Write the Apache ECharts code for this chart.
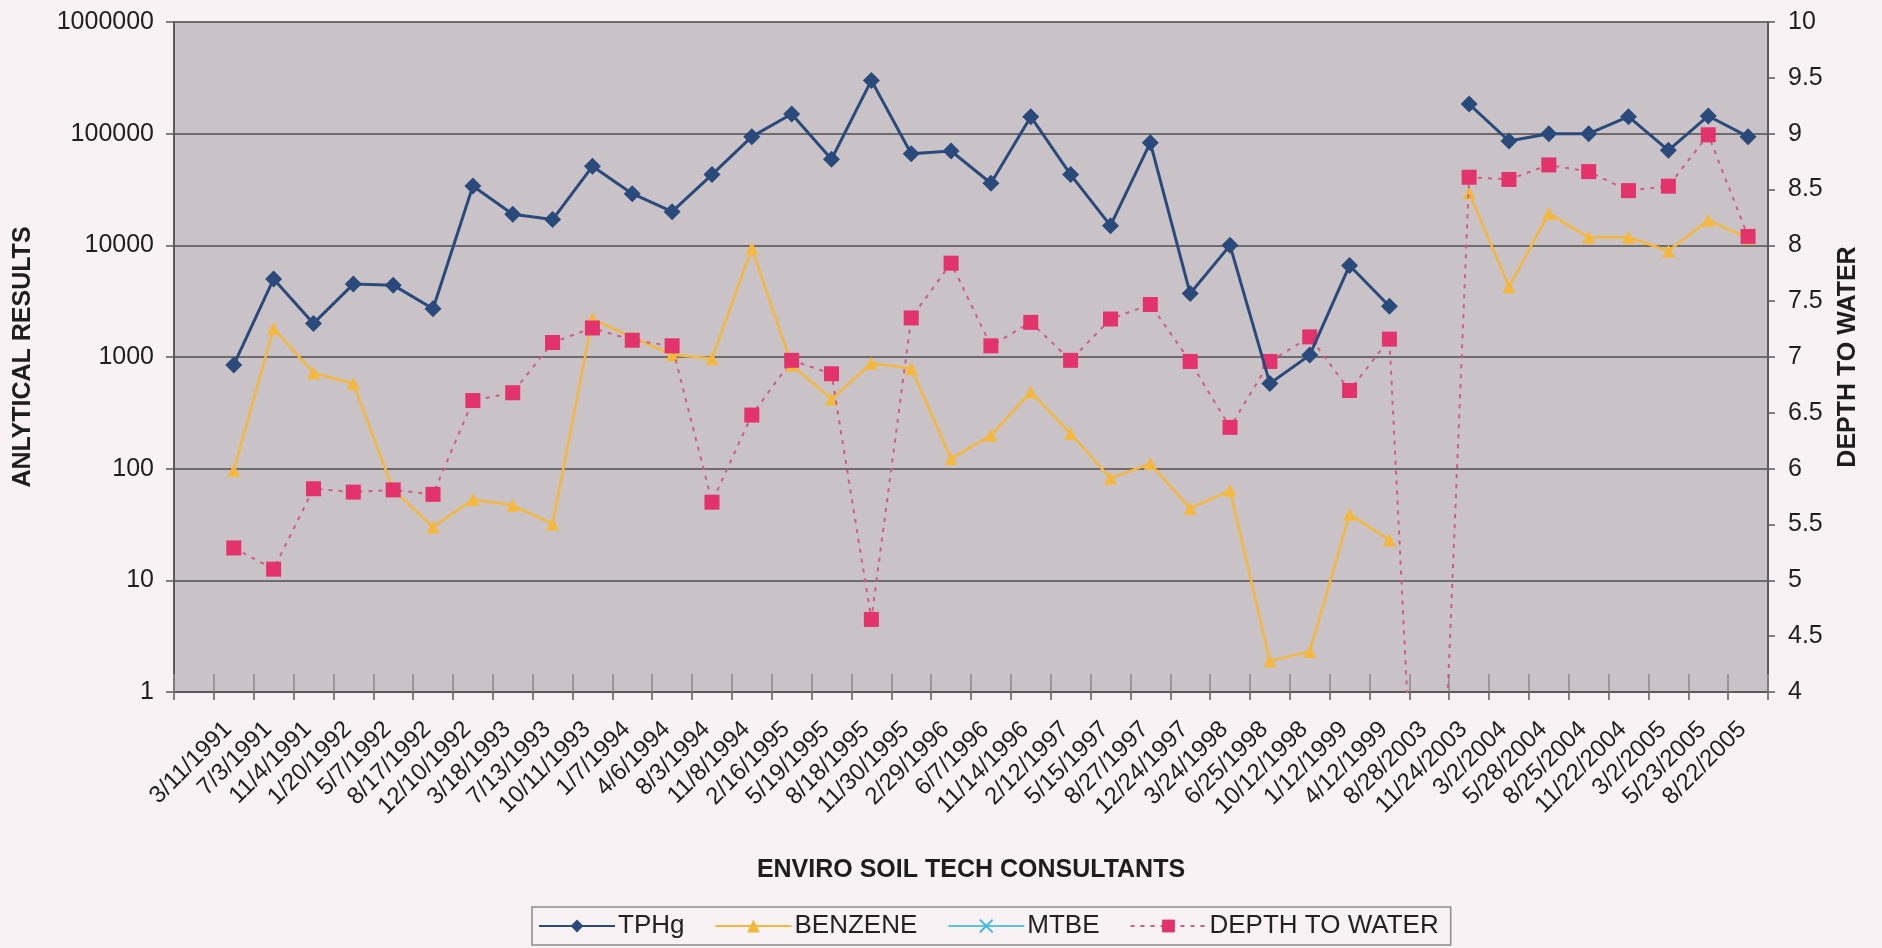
<!DOCTYPE html>
<html>
<head>
<meta charset="utf-8">
<title>Analytical Results and Depth to Water</title>
<script src="https://cdn.jsdelivr.net/npm/echarts@6/dist/echarts.min.js"></script>
<style>
  html, body { margin: 0; padding: 0; background: #f9f2f5; }
  #chart { width: 1882px; height: 948px; }
</style>
</head>
<body>
<div id="chart"></div>
<script>
// Sampling dates (first slot is an empty category)
const categories = ['', '3/11/1991', '7/3/1991', '11/4/1991', '1/20/1992', '5/7/1992', '8/17/1992',
  '12/10/1992', '3/18/1993', '7/13/1993', '10/11/1993', '1/7/1994', '4/6/1994', '8/3/1994',
  '11/8/1994', '2/16/1995', '5/19/1995', '8/18/1995', '11/30/1995', '2/29/1996', '6/7/1996',
  '11/14/1996', '2/12/1997', '5/15/1997', '8/27/1997', '12/24/1997', '3/24/1998', '6/25/1998',
  '10/12/1998', '1/12/1999', '4/12/1999', '8/28/2003', '11/24/2003', '3/2/2004', '5/28/2004',
  '8/25/2004', '11/22/2004', '3/2/2005', '5/23/2005', '8/22/2005'];

// Analytical results (log scale, left axis)
const tphg = [null, 850, 5000, 2000, 4500, 4400, 2700, 34000, 19000, 17000, 51000, 29000, 20000,
  43000, 94000, 150000, 59000, 300000, 66000, 70000, 36000, 142000, 43000, 15000, 83000, 3700,
  10000, 580, 1040, 6600, 2850, null, 184000, 86000, 100000, 100000, 142000, 71000, 144000, 94000];

const benzene = [null, 97, 1800, 720, 580, 65, 30, 53, 47, 32, 2200, 1500, 1050, 970, 9400, 850,
  420, 880, 790, 123, 199, 487, 206, 82, 111, 44, 64, 1.9, 2.3, 39, 23, null, 29500, 4250, 19300,
  11800, 11800, 8900, 16800, 11600];

// MTBE: no plotted results
const mtbe = [];

// Depth to water (right axis)
const depthToWater = [null, 5.29, 5.10, 5.82, 5.79, 5.81, 5.77, 6.61, 6.68, 7.13, 7.26, 7.15, 7.10,
  5.70, 6.48, 6.97, 6.85, 4.65, 7.35, 7.84, 7.10, 7.31, 6.97, 7.34, 7.47, 6.96, 6.37, 6.96, 7.18,
  6.70, 7.16, 0, 8.61, 8.59, 8.72, 8.66, 8.49, 8.53, 8.99, 8.08];

const leftTicks = [1, 10, 100, 1000, 10000, 100000, 1000000];

const FONT = '"Liberation Sans", Arial, sans-serif';
const AXIS_COLOR = '#5c5a5b';
const GRID_COLOR = '#6d6b6c';

const chart = echarts.init(document.getElementById('chart'), null, { renderer: 'canvas' });

chart.setOption({
  backgroundColor: '#f9f2f5',
  textStyle: { fontFamily: FONT },
  grid: {
    left: 174, right: 114, top: 22, bottom: 256,
    show: true, backgroundColor: '#c9c2c6', borderWidth: 0
  },
  legend: {
    data: ['TPHg', 'BENZENE', 'MTBE', 'DEPTH TO WATER'],
    left: 532, top: 907,
    padding: [6, 12, 6, 6],
    itemWidth: 76, itemHeight: 16, itemGap: 30,
    borderColor: '#8c8a8b', borderWidth: 1.5,
    backgroundColor: '#f9f2f5',
    textStyle: { fontSize: 26, color: '#222', fontFamily: FONT, padding: [0, 0, 0, -2] }
  },
  xAxis: [
    {
      type: 'category',
      data: categories,
      boundaryGap: true,
      axisLine: { lineStyle: { color: AXIS_COLOR, width: 2 } },
      axisTick: { show: true, inside: false, length: 8, interval: 0, lineStyle: { color: AXIS_COLOR, width: 1.5 } },
      axisLabel: {
        interval: 0, rotate: 45, margin: 28,
        fontSize: 24, color: '#1e1e1e', fontFamily: FONT,
        padding: [0, 8, 0, 0]
      },
      name: 'ENVIRO SOIL TECH CONSULTANTS',
      nameLocation: 'middle', nameGap: 166,
      nameTextStyle: { fontSize: 25, fontWeight: 'bold', color: '#1e1e1e', fontFamily: FONT }
    },
    {
      // inner half of the crossing tick marks
      type: 'category',
      data: categories,
      position: 'bottom',
      axisLine: { show: false },
      axisTick: { show: true, inside: true, length: 18, interval: 0, lineStyle: { color: '#8a8688', width: 1.5 } },
      axisLabel: { show: false }
    }
  ],
  yAxis: [
    {
      type: 'log', logBase: 10, min: 1, max: 1000000,
      position: 'left',
      axisLine: { show: true, lineStyle: { color: AXIS_COLOR, width: 2 } },
      axisTick: { show: true, length: 8, lineStyle: { color: AXIS_COLOR, width: 1.5 } },
      axisLabel: {
        margin: 20, fontSize: 25, color: '#1e1e1e', fontFamily: FONT,
        formatter: v => leftTicks.includes(Math.round(v)) ? String(Math.round(v)) : ''
      },
      splitLine: { show: true, lineStyle: { color: GRID_COLOR, width: 2 } },
      minorTick: { show: false },
      name: 'ANLYTICAL RESULTS',
      nameLocation: 'middle', nameGap: 138, nameRotate: 90,
      nameTextStyle: { fontSize: 25, fontWeight: 'bold', color: '#1e1e1e', fontFamily: FONT }
    },
    {
      type: 'value', min: 4, max: 10, interval: 0.5,
      position: 'right',
      axisLine: { show: true, lineStyle: { color: AXIS_COLOR, width: 2 } },
      axisTick: { show: true, length: 7, lineStyle: { color: AXIS_COLOR, width: 1.5 } },
      axisLabel: { margin: 20, fontSize: 25, color: '#1e1e1e', fontFamily: FONT },
      splitLine: { show: false },
      name: 'DEPTH TO WATER',
      nameLocation: 'middle', nameGap: 68, nameRotate: 90,
      nameTextStyle: { fontSize: 25, fontWeight: 'bold', color: '#1e1e1e', fontFamily: FONT }
    }
  ],
  series: [
    {
      name: 'TPHg', type: 'line', data: tphg,
      xAxisIndex: 0, yAxisIndex: 0, z: 5,
      symbol: 'diamond', symbolSize: 17,
      lineStyle: { color: '#2a4a7c', width: 3 },
      itemStyle: { color: '#2a4a7c' },
      connectNulls: false, animation: false
    },
    {
      name: 'BENZENE', type: 'line', data: benzene,
      xAxisIndex: 0, yAxisIndex: 0, z: 3,
      symbol: 'triangle', symbolSize: 13,
      lineStyle: { color: '#f4b83e', width: 2.5 },
      itemStyle: { color: '#f4b83e' },
      connectNulls: false, animation: false
    },
    {
      name: 'MTBE', type: 'line', data: mtbe,
      xAxisIndex: 0, yAxisIndex: 0, z: 3,
      symbol: 'path://M0,0 L10,10 M10,0 L0,10', symbolSize: 10,
      lineStyle: { color: '#5cc3dc', width: 2.5 },
      itemStyle: { color: '#5cc3dc', borderColor: '#3fb5e0', borderWidth: 2 },
      animation: false
    },
    {
      name: 'DEPTH TO WATER', type: 'line', data: depthToWater,
      xAxisIndex: 0, yAxisIndex: 1, z: 4,
      symbol: 'rect', symbolSize: 15,
      lineStyle: { color: '#cf5d84', width: 2, type: [4, 6] },
      itemStyle: { color: '#e2336c' },
      clip: true, connectNulls: false, animation: false
    }
  ]
});
</script>
</body>
</html>
